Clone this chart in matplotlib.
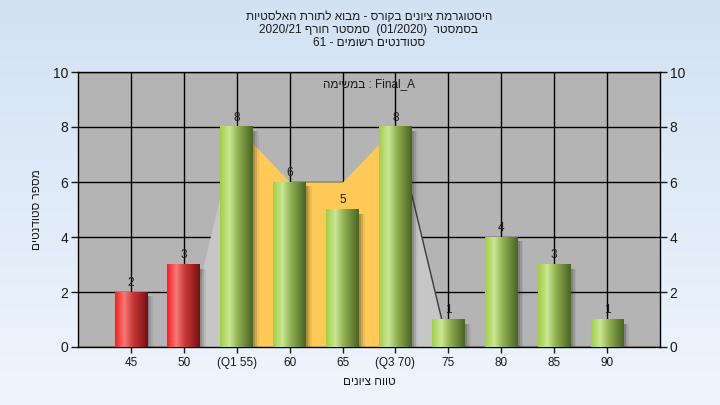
import re

import matplotlib

matplotlib.use("Agg")

import matplotlib.pyplot as plt  # noqa: E402
import numpy as np  # noqa: E402
from matplotlib.colors import LinearSegmentedColormap  # noqa: E402

plt.rcParams["font.family"] = ["Liberation Sans", "DejaVu Sans"]

# data
categories = ["45", "50", "(Q1 55)", "60", "65", "(Q3 70)", "75", "80", "85", "90"]
counts = [2, 3, 8, 6, 5, 8, 1, 4, 3, 1]
failing = [True, True, False, False, False, False, False, False, False, False]
# background distribution area (light gray) and inter-quartile part (yellow)
area_idx = [1, 2, 3, 4, 5, 6]
area_vals = [0, 8, 6, 6, 8, 0]
iqr_idx = [2, 3, 4, 5]
iqr_vals = [8, 6, 6, 8]

title_lines = [
    "היסטוגרמת ציונים בקורס - מבוא לתורת האלסטיות",
    "בסמסטר  (01/2020)  סמסטר חורף 2020/21",
    "סטודנטים רשומים - 61",
]
x_label = "טווח ציונים"
y_label = "מספר סטודנטים"
note_word = "במשימה"
note_task = "Final_A"


def rtl(text):
    """Logical Hebrew string -> visual order (matplotlib has no bidi)."""
    tokens = re.findall(r"[A-Za-z0-9_/.]+|.", text)
    mirror = {"(": ")", ")": "("}
    return "".join(mirror.get(t, t) for t in reversed(tokens))


def gradient_bar(ax, x, h, width, cmap):
    grad = np.linspace(0, 1, 64).reshape(1, -1)
    # soft shadow to the right
    for k, a in enumerate([0.22, 0.14, 0.08]):
        off = 0.04 + k * 0.035
        ax.add_patch(plt.Rectangle((x - width / 2 + off, 0), width, max(h - 0.15, 0),
                                   color="#303030", alpha=a, lw=0, zorder=2.6))
    ax.imshow(grad, cmap=cmap, extent=[x - width / 2, x + width / 2, 0, h],
              aspect="auto", zorder=3, interpolation="bilinear")


green = LinearSegmentedColormap.from_list(
    "g", [(0, "#a2cf46"), (0.28, "#cbe795"), (0.55, "#90b050"), (1, "#4a6422")])
red = LinearSegmentedColormap.from_list(
    "r", [(0, "#ff1c1c"), (0.28, "#f47a7a"), (0.55, "#c83838"), (1, "#761010")])

fig = plt.figure(figsize=(7.2, 4.05), dpi=100)

# light blue background gradient
bg = fig.add_axes([0, 0, 1, 1], zorder=-10)
bg.imshow(np.linspace(0, 1, 100).reshape(-1, 1),
          cmap=LinearSegmentedColormap.from_list("bg", ["#d3e1f3", "#eef6fd"]),
          aspect="auto", extent=[0, 1, 0, 1])
bg.axis("off")

ax = fig.add_axes([78 / 720, 1 - 347 / 405, (660 - 78) / 720, (347 - 72) / 405])
ax.set_facecolor("#b4b4b4")
ax.set_axisbelow(True)

xs = np.arange(len(categories))
ax.fill_between(area_idx, area_vals, 0, color="#c6c6c6", lw=0, zorder=1)
ax.fill_between(iqr_idx, iqr_vals, 0, color="#fec955", lw=0, zorder=1.5)
ax.plot(area_idx[-2:], area_vals[-2:], color="#3a3a3a", lw=1.0, zorder=1.6)

bar_w = 0.62
for x, v, bad in zip(xs, counts, failing):
    gradient_bar(ax, x, v, bar_w, red if bad else green)
    ax.text(x, v + 0.12, str(v), ha="center", va="bottom", fontsize=8.5,
            color="#1a1a1a", zorder=5)

ax.set_xlim(-1, len(categories))
ax.set_ylim(0, 10)
ax.set_yticks(range(0, 11, 2))
ax.set_xticks(xs)
ax.set_xticklabels(categories)
ax.grid(True, color="black", lw=1.0)
ax.tick_params(axis="y", which="both", left=True, right=True, labelleft=True,
               labelright=True, length=5, width=1, labelsize=10, colors="#1a1a1a", pad=2)
ax.tick_params(axis="x", length=4, width=1, labelsize=8.5, colors="#1a1a1a", pad=3)
for s in ax.spines.values():
    s.set_color("black")
    s.set_linewidth(1)

ax.set_xlabel(rtl(x_label), fontsize=8.5, color="#1a1a1a", labelpad=5)
ax.set_ylabel(rtl(y_label), fontsize=8.5, color="#1a1a1a", labelpad=7)

ax.text(0.5, 0.955, rtl(note_word) + " : " + note_task, transform=ax.transAxes,
        ha="center", va="center", fontsize=8.5, color="#1a1a1a", zorder=6)

cx = (78 + 660) / 2 / 720
for i, line in enumerate(title_lines):
    fig.text(cx, 1 - (17 + 13 * i) / 405, rtl(line), ha="center", va="center",
             fontsize=8.5, color="#1a1a1a")

fig.savefig("out.png", dpi=100)
